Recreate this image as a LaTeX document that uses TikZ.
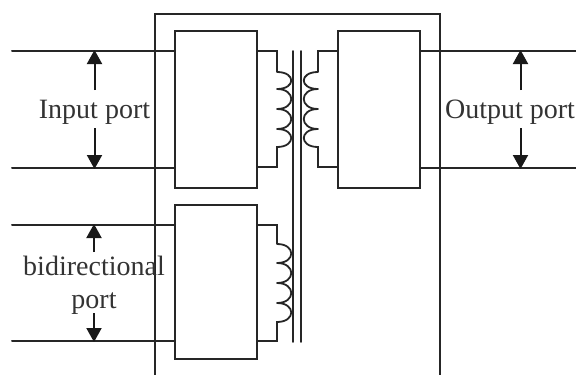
\documentclass[tikz,border=0pt]{standalone}
\usepackage{fontspec}
\setmainfont{Liberation Serif}
\usetikzlibrary{arrows.meta}
\tikzset{
 wire/.style={draw=black!85,line width=2pt,line cap=round,line join=miter},
 unit/.style={wire,rectangle,inner sep=0pt,outer sep=0pt,minimum width=#1},
 unit/.default=82pt,
 lbl/.style={text=black!80,font=\fontsize{28}{32}\selectfont,inner sep=0pt,anchor=base},
 harrow/.style={draw=black!90,line width=2pt,-{Triangle[width=15pt,length=14pt]},shorten >=-1pt},
}
\newcommand{\coilpath}[3]{%
  (#1,#2) .. controls (#1+19,#2) and (#1+19,#3) .. (#1,#3)}
\newcommand{\coilpathl}[3]{%
  (#1,#2) .. controls (#1-19,#2) and (#1-19,#3) .. (#1,#3)}
\begin{document}
\begin{tikzpicture}[x=1pt,y=-1pt]
\useasboundingbox (0,0) rectangle (576,375);
\coordinate (hbl) at (155,375); \coordinate (htl) at (155,14);
\coordinate (htr) at (440,14);  \coordinate (hbr) at (440,375);
\draw[wire,line cap=butt] (hbl) -- (htl) -- (htr) -- (hbr);
\node[unit=82pt,minimum height=157pt] (inbox) at (216,109.5) {};
\node[unit=82pt,minimum height=157pt] (outbox) at (379,109.5) {};
\node[unit=82pt,minimum height=154pt] (bibox) at (216,282) {};
\coordinate (i1) at (12,51);  \coordinate (i2) at (12,168);
\coordinate (o1) at (576,51); \coordinate (o2) at (576,168);
\coordinate (b1) at (12,225); \coordinate (b2) at (12,341);
\draw[wire] (i1) -- (i1 -| inbox.west);
\draw[wire] (i2) -- (i2 -| inbox.west);
\draw[wire,line cap=butt] (o1) -- (o1 -| outbox.east);
\draw[wire,line cap=butt] (o2) -- (o2 -| outbox.east);
\draw[wire] (b1) -- (b1 -| bibox.west);
\draw[wire] (b2) -- (b2 -| bibox.west);
\coordinate (c1t) at (293,51); \coordinate (c1b) at (293,342);
\coordinate (c2t) at (301,51); \coordinate (c2b) at (301,342);
\draw[wire,line width=1.8pt] (c1t) -- (c1b);
\draw[wire,line width=1.8pt] (c2t) -- (c2b);
\draw[wire,line width=1.8pt] (257,51) -- (277,51) -- (277,72)
  \coilpath{277}{72}{89} \coilpath{277}{89}{109}
  \coilpath{277}{109}{129} \coilpath{277}{129}{147}
  -- (277,167) -- (257,167);
\draw[wire,line width=1.8pt] (338,51) -- (318,51) -- (318,72)
  \coilpathl{318}{72}{89} \coilpathl{318}{89}{109}
  \coilpathl{318}{109}{129} \coilpathl{318}{129}{147}
  -- (318,167) -- (338,167);
\draw[wire,line width=1.8pt] (257,225) -- (277,225) -- (277,244)
  \coilpath{277}{244}{263} \coilpath{277}{263}{283}
  \coilpath{277}{283}{303} \coilpath{277}{303}{322}
  -- (277,341) -- (257,341);
\node[lbl] (tin) at (94.5,118) {Input port};
\node[lbl] (tout) at (510,118) {Output port};
\node[lbl] (tbi) at (94,275) {bidirectional};
\node[lbl] (tbp) at (94,308) {port};
\coordinate (a1) at (94.5,90);  \coordinate (a1t) at (94.5,51);
\coordinate (a2) at (94.5,128); \coordinate (a2t) at (94.5,168);
\coordinate (a3) at (520.5,90); \coordinate (a3t) at (520.5,51);
\coordinate (a4) at (520.5,128);\coordinate (a4t) at (520.5,168);
\coordinate (a5) at (94,252); \coordinate (a5t) at (94,225);
\coordinate (a6) at (94,313); \coordinate (a6t) at (94,341);
\foreach \p/\q in {a1/a1t,a2/a2t,a3/a3t,a4/a4t,a5/a5t,a6/a6t}
  \draw[harrow] (\p) -- (\q);
\end{tikzpicture}
\end{document}
